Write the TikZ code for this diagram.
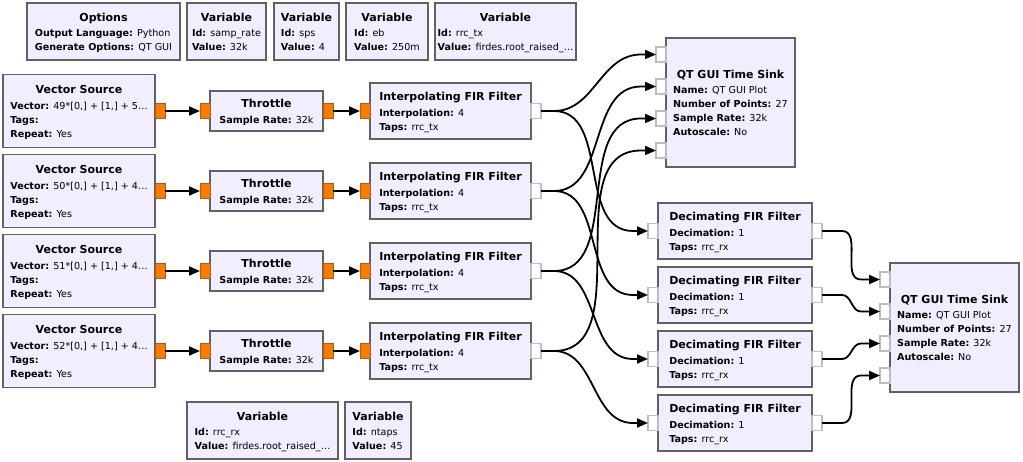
\documentclass[tikz,border=0pt]{standalone}
\usepackage{fontspec}
\setmainfont{DejaVu Sans}
\usetikzlibrary{arrows.meta}
\definecolor{blockfill}{RGB}{240,238,255}
\definecolor{blockline}{RGB}{97,97,97}
\definecolor{portfill}{RGB}{245,124,0}
\definecolor{portline}{RGB}{180,90,30}
\definecolor{openline}{RGB}{190,190,190}
\newcommand\grc[2]{\vbox{\kern3pt\hbox{\begin{tabular}{@{}l@{}}\multicolumn{1}{@{}c@{}}{\fontsize{11}{14}\selectfont\bfseries #1}\\[1.5pt]#2\end{tabular}}}}
\newcommand\prm[2]{\textbf{#1:} #2}

\begin{document}
\begin{tikzpicture}[x=1pt,y=-1pt,
  block/.style={draw=blockline, fill=blockfill, line width=1.6pt, anchor=north west,
                inner sep=0pt, outer sep=0pt, font=\fontsize{9.6}{14}\selectfont},
  floatport/.style={draw=portline, fill=portfill, line width=0.8pt, inner sep=0pt,
                outer sep=0pt, minimum width=10pt, minimum height=15pt},
  openport/.style={floatport, draw=openline, fill=white, line width=1.2pt},
  wire/.style={line width=1.8pt, -{Triangle[length=11pt,width=9pt]}}]
\useasboundingbox (0,0) rectangle (1023,462);

% variables and options
\node[block, minimum width=153, minimum height=57] (opt) at (27,3)
  {\grc{Options}{\prm{Output Language}{Python}\\ \prm{Generate Options}{QT GUI}}};
\node[block, minimum width=79, minimum height=57] (vsr) at (187,3)
  {\grc{Variable}{\prm{Id}{samp\_rate}\\ \prm{Value}{32k}}};
\node[block, minimum width=65, minimum height=57] (vsps) at (274,3)
  {\grc{Variable}{\prm{Id}{sps}\\ \prm{Value}{4}}};
\node[block, minimum width=82, minimum height=57] (veb) at (346,3)
  {\grc{Variable}{\prm{Id}{eb}\\ \prm{Value}{250m}}};
\node[block, minimum width=141, minimum height=57] (vtx) at (435,3)
  {\grc{Variable}{\prm{Id}{rrc\_tx}\\ \prm{Value}{firdes.root\_raised\_…}}};
\node[block, minimum width=151, minimum height=57] (vrx) at (187,402)
  {\grc{Variable}{\prm{Id}{rrc\_rx}\\ \prm{Value}{firdes.root\_raised\_…}}};
\node[block, minimum width=66, minimum height=57] (vnt) at (345,402)
  {\grc{Variable}{\prm{Id}{ntaps}\\ \prm{Value}{45}}};

% transmit chains and receive filters
\foreach \i/\vm/\vt in {0/49/5,1/50/4,2/51/4,3/52/4}{
  \node[block, minimum width=152, minimum height=73] (S\i) at (3,{74.5+80*\i})
    {\grc{Vector Source}{\prm{Vector}{\vm*[0,] + [1,] + \vt…}\\ \textbf{Tags:}\\ \prm{Repeat}{Yes}}};
  \node[block, minimum width=113, minimum height=40] (T\i) at (210,{91+80*\i})
    {\grc{Throttle}{\prm{Sample Rate}{32k}}};
  \node[block, minimum width=161, minimum height=56] (I\i) at (370,{83+80*\i})
    {\grc{Interpolating FIR Filter}{\prm{Interpolation}{4}\\ \prm{Taps}{rrc\_tx}}};
  \node[block, minimum width=154, minimum height=56] (D\i) at (658,{203+64*\i})
    {\grc{Decimating FIR Filter}{\prm{Decimation}{1}\\ \prm{Taps}{rrc\_rx}}};
  \node[floatport, anchor=west] (So\i) at (S\i.east) {};
  \node[floatport, anchor=east] (Ti\i) at (T\i.west) {};
  \node[floatport, anchor=west] (To\i) at (T\i.east) {};
  \node[floatport, anchor=east] (Ii\i) at (I\i.west) {};
  \node[openport, anchor=west] (Io\i) at (I\i.east) {};
  \node[openport, anchor=east] (Di\i) at (D\i.west) {};
  \node[openport, anchor=west] (Do\i) at (D\i.east) {};
}

% sinks
\node[block, minimum width=129, minimum height=129] (Qa) at (666,38)
  {\grc{QT GUI Time Sink}{\prm{Name}{QT GUI Plot}\\ \prm{Number of Points}{27}\\ \prm{Sample Rate}{32k}\\ \prm{Autoscale}{No}}};
\node[block, minimum width=129, minimum height=129] (Qb) at (890,263)
  {\grc{QT GUI Time Sink}{\prm{Name}{QT GUI Plot}\\ \prm{Number of Points}{27}\\ \prm{Sample Rate}{32k}\\ \prm{Autoscale}{No}}};
\foreach \k in {0,...,3}{
  \node[openport, anchor=east] (Qa\k) at ([yshift={-16.5-32*\k}]Qa.north west) {};
  \node[openport, anchor=east] (Qb\k) at ([yshift={-16.5-32*\k}]Qb.north west) {};
}

% connections
\foreach \i in {0,...,3}{
  \draw[wire] (So\i.east) -- (Ti\i.west);
  \draw[wire] (To\i.east) -- (Ii\i.west);
  \draw[wire] (Io\i.east) -- ++(13,0) to[out=0,in=180] ([xshift=-15pt]Qa\i.west) -- (Qa\i.west);
  \draw[wire] (Io\i.east) -- ++(13,0) to[out=0,in=180] ([xshift=-15pt]Di\i.west) -- (Di\i.west);
  \draw[wire] (Do\i.east) -- ++(20,0) to[out=0,in=180] ([xshift=-19pt]Qb\i.west) -- (Qb\i.west);
}
\end{tikzpicture}
\end{document}
